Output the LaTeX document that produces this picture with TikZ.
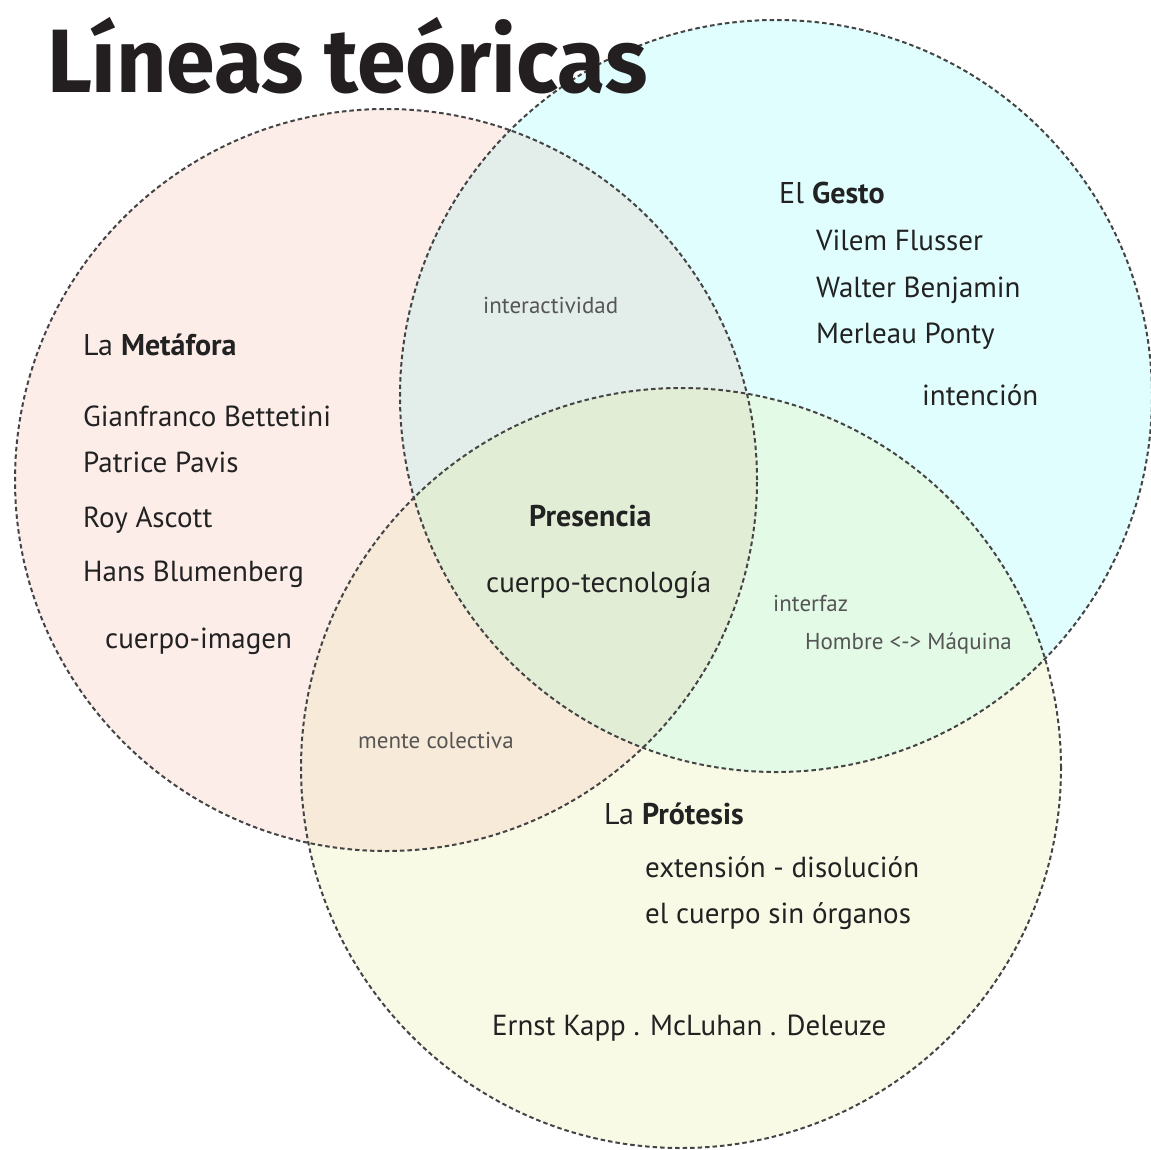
\documentclass[tikz,border=0pt]{standalone}
\usepackage{graphicx}
\usepackage{fontspec}
\setmainfont{PT Sans}
\newfontfamily\titlefont{Fira Sans}

\definecolor{metapink}{HTML}{FCEDE9}
\definecolor{gestocyan}{HTML}{E0FEFE}
\definecolor{protyellow}{HTML}{F8FAE6}
\definecolor{pinkcyan}{HTML}{E3EEEB}
\definecolor{pinkyellow}{HTML}{F8EAD8}
\definecolor{cyanyellow}{HTML}{E2FAE6}
\definecolor{allthree}{HTML}{E2EDD6}
\definecolor{ringgray}{HTML}{444444}
\definecolor{inkdark}{HTML}{222222}
\definecolor{graytext}{HTML}{555555}
\definecolor{titleink}{HTML}{231F20}

\begin{document}
\begin{tikzpicture}[x=1pt,y=-1pt,
  ring/.style={draw=ringgray, line width=2pt, dash pattern=on 4.5pt off 3pt},
  txt/.style={anchor=base west, inner sep=0pt, text=inkdark, font=\fontsize{29}{32}\selectfont},
  head/.style={txt, font=\fontsize{30}{34}\selectfont},
  small/.style={anchor=base west, inner sep=0pt, text=graytext, font=\fontsize{23}{26}\selectfont}]

% Page
\useasboundingbox[fill=white] (0,0) rectangle (1151,1149);

% Define coordinates
\coordinate (meta) at (386,480); % Centre of La Metafora
\coordinate (gesto) at (776,396); % Centre of El Gesto
\coordinate (protesis) at (681,768); % Centre of La Protesis

% Fill circles
\fill[metapink] (meta) circle(371pt);
\fill[gestocyan] (gesto) circle(376pt);
\fill[protyellow] (protesis) circle(380pt);

% Fill overlaps
\begin{scope}
  \clip (gesto) circle(376pt);
  \fill[cyanyellow] (protesis) circle(380pt);
\end{scope}
\begin{scope}
  \clip (meta) circle(371pt);
  \fill[pinkcyan] (gesto) circle(376pt);
  \fill[pinkyellow] (protesis) circle(380pt);
  \clip (gesto) circle(376pt);
  \fill[allthree] (protesis) circle(380pt);
\end{scope}

% Draw dashed outlines
\draw[ring] (meta) circle(371pt);
\draw[ring] (gesto) circle(376pt);
\draw[ring] (protesis) circle(380pt);

% Title
\node[anchor=base west, inner sep=0pt, text=titleink] (title) at (47,92)
  {\titlefont\bfseries\fontsize{90}{90}\selectfont\scalebox{0.975}[1]{Líneas teóricas}};

% La Metafora
\node[head] (metahead) at (83,355) {La \textbf{Metáfora}};
\node[txt] (bettetini) at (83,426) {Gianfranco Bettetini};
\node[txt] (pavis) at (83,472) {Patrice Pavis};
\node[txt] (ascott) at (83,527) {Roy Ascott};
\node[txt] (blumenberg) at (83,581) {Hans Blumenberg};
\node[txt] (cuerpoimagen) at (105,648) {cuerpo-imagen};

% El Gesto
\node[head] (gestohead) at (779,203) {El \textbf{Gesto}};
\node[txt] (flusser) at (816,250) {Vilem Flusser};
\node[txt] (benjamin) at (816,297) {Walter Benjamin};
\node[txt] (ponty) at (816,343) {Merleau Ponty};
\node[txt] (intencion) at (922,405) {intención};

% La Protesis
\node[head] (protesishead) at (604,824) {La \textbf{Prótesis}};
\node[txt] (extension) at (645,877) {extensión - disolución};
\node[txt] (organos) at (645,923) {el cuerpo sin órganos};
\node[txt] (kapp) at (492,1035) {Ernst Kapp . McLuhan . Deleuze};

% Overlaps
\node[head] (presencia) at (529,526) {\textbf{Presencia}};
\node[txt] (tecnologia) at (486,592) {cuerpo-tecnología};
\node[small] (interactividad) at (483,313) {interactividad};
\node[small] (interfaz) at (773,611) {interfaz};
\node[small] (hombre) at (805,649) {Hombre <-> Máquina};
\node[small] (colectiva) at (358,748) {mente colectiva};

\end{tikzpicture}
\end{document}
